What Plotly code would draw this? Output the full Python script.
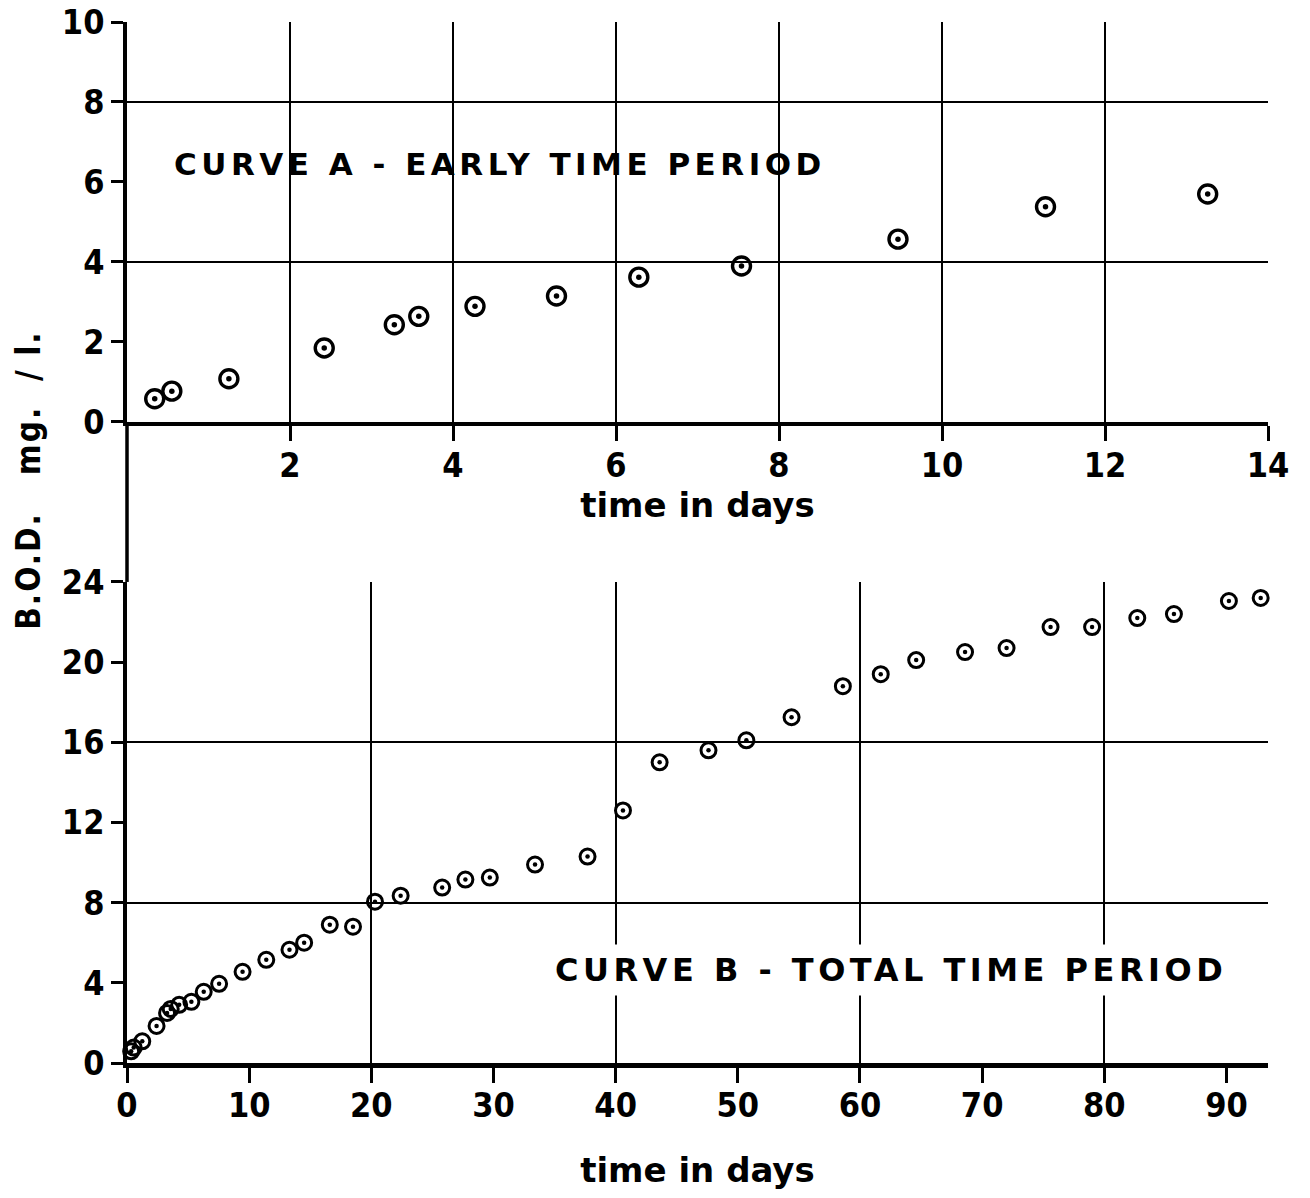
import plotly.graph_objects as go

# Curve A: early time period (days, B.O.D. mg/l)
early_days = [0.34, 0.55, 1.25, 2.42, 3.28, 3.58, 4.27, 5.27, 6.28, 7.54, 9.46, 11.27, 13.26]
early_bod = [0.58, 0.77, 1.08, 1.85, 2.43, 2.64, 2.89, 3.15, 3.62, 3.9, 4.57, 5.38, 5.7]

# Curve B: total time period (days, B.O.D. mg/l)
total_days = [0.34, 0.55, 1.25, 2.42, 3.28, 3.58, 4.27, 5.27, 6.28, 7.54, 9.46, 11.4, 13.3,
              14.5, 16.6, 18.5, 20.3, 22.4, 25.8, 27.7, 29.7, 33.4, 37.7, 40.6, 43.6,
              47.6, 50.7, 54.4, 58.6, 61.7, 64.6, 68.6, 72.0, 75.6, 79.0, 82.7, 85.7,
              90.2, 92.8]
total_bod = [0.58, 0.77, 1.08, 1.85, 2.5, 2.7, 2.9, 3.05, 3.55, 3.95, 4.55, 5.15, 5.65,
             6.0, 6.9, 6.8, 8.05, 8.35, 8.75, 9.15, 9.25, 9.9, 10.3, 12.6, 15.0,
             15.6, 16.1, 17.25, 18.8, 19.4, 20.1, 20.5, 20.7, 21.75, 21.75, 22.2, 22.4,
             23.05, 23.2]

top_x_ticks = [2, 4, 6, 8, 10, 12, 14]
top_y_ticks = [0, 2, 4, 6, 8, 10]
top_y_grid = [4, 8]
bottom_x_ticks = [0, 10, 20, 30, 40, 50, 60, 70, 80, 90]
bottom_x_grid = [20, 40, 60, 80]
bottom_y_ticks = [0, 4, 8, 12, 16, 20, 24]
bottom_y_grid = [8, 16, 24]

NARROW = "DejaVu Sans Condensed, DejaVu Sans, sans-serif"
WIDE = "DejaVu Sans, sans-serif"
INK = "black"

TOP_DOMAIN = [0.6158, 1.0]
BOTTOM_DOMAIN = [0.0, 0.4621]

fig = go.Figure()


def add_ring_points(xs, ys, xa, ya, ring, ring_w, dot):
    # open ring plus a solid centre dot for each observation
    fig.add_trace(go.Scatter(
        x=xs, y=ys, mode="markers", xaxis=xa, yaxis=ya, cliponaxis=False,
        showlegend=False, hoverinfo="x+y",
        marker=dict(symbol="circle-open", size=ring, color=INK, line=dict(width=ring_w, color=INK)),
    ))
    fig.add_trace(go.Scatter(
        x=xs, y=ys, mode="markers", xaxis=xa, yaxis=ya, cliponaxis=False,
        showlegend=False, hoverinfo="skip",
        marker=dict(symbol="circle", size=dot, color=INK, line=dict(width=0)),
    ))


add_ring_points(early_days, early_bod, "x", "y", 18, 3.4, 5.5)
add_ring_points(total_days, total_bod, "x2", "y2", 15, 3.0, 4.5)

tick_font = dict(family=NARROW, size=34, color=INK, weight="bold")
title_font = dict(family=WIDE, size=34, color=INK, weight="bold")

common_axis = dict(
    showline=True, linecolor=INK, ticks="outside", tickcolor=INK,
    tickfont=tick_font, zeroline=False, showgrid=False, automargin=False,
    ticklabeloverflow="allow",
)

fig.update_layout(
    width=1310, height=1198,
    margin=dict(l=127, r=42, t=22, b=135),
    paper_bgcolor="white", plot_bgcolor="white",
    font=dict(family=WIDE, color=INK),
    xaxis=dict(
        common_axis, domain=[0, 1], range=[0, 14], anchor="y",
        tickvals=top_x_ticks, ticklen=15, tickwidth=3, linewidth=4,
        showgrid=True, gridcolor=INK, gridwidth=2,
        ticklabelstandoff=-5,
        title=dict(text="time in days", font=title_font, standoff=10),
    ),
    yaxis=dict(
        common_axis, domain=TOP_DOMAIN, range=[0, 10], anchor="x",
        tickvals=top_y_ticks, ticklen=12, tickwidth=3, linewidth=3.5,
        minor=dict(tickvals=top_y_grid, showgrid=True, gridcolor=INK, gridwidth=2, ticks=""),
    ),
    xaxis2=dict(
        common_axis, domain=[0, 1], range=[0, 93.4], anchor="y2",
        tickvals=bottom_x_ticks, ticklen=15, tickwidth=3, linewidth=5,
        minor=dict(tickvals=bottom_x_grid, showgrid=True, gridcolor=INK, gridwidth=2, ticks=""),
        ticklabelstandoff=-7,
        title=dict(text="time in days", font=title_font, standoff=36),
    ),
    yaxis2=dict(
        common_axis, domain=BOTTOM_DOMAIN, range=[0, 24], anchor="x2",
        tickvals=bottom_y_ticks, ticklen=12, tickwidth=3, linewidth=3.5,
        minor=dict(tickvals=bottom_y_grid, showgrid=True, gridcolor=INK, gridwidth=2, ticks=""),
    ),
)

# left axis runs continuously between the two panels
fig.add_shape(type="line", xref="paper", yref="paper",
              x0=0, x1=0, y0=BOTTOM_DOMAIN[1], y1=TOP_DOMAIN[0],
              line=dict(color=INK, width=3.5))

# shared vertical axis title
fig.add_annotation(
    xref="paper", yref="paper", x=-0.087, y=0.56,
    text='<span style="letter-spacing:2px">B.O.D.\u00a0\u00a0\u00a0mg.\u00a0\u00a0/\u00a0l.</span>',
    textangle=-90, showarrow=False, xanchor="center", yanchor="middle",
    font=dict(family=NARROW, size=33, color=INK, weight="bold"),
)

fig.add_annotation(
    xref="x", yref="y", x=0.55, y=6.44,
    text='<span style="letter-spacing:4.5px">CURVE A - EARLY TIME PERIOD</span>',
    showarrow=False, xanchor="left", yanchor="middle",
    font=dict(family=WIDE, size=31, color=INK, weight="bold"),
)

fig.add_annotation(
    xref="x2", yref="y2", x=34.5, y=4.64,
    text='<span style="letter-spacing:4.5px">CURVE B - TOTAL TIME PERIOD</span>',
    showarrow=False, xanchor="left", yanchor="middle", bgcolor="white", borderpad=6,
    font=dict(family=WIDE, size=32, color=INK, weight="bold"),
)

fig.write_html("out.html")
